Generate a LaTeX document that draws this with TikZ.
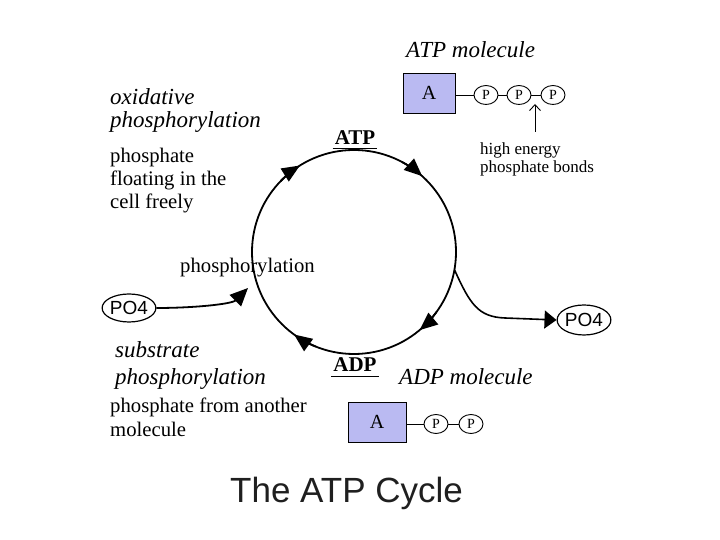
\documentclass[tikz,border=0pt]{standalone}
\usepackage{fontspec}
\setmainfont{Liberation Serif}
\newfontfamily\sansf{Liberation Sans}
\usetikzlibrary{arrows.meta,shapes.geometric,calc}
\definecolor{boxblue}{RGB}{186,186,242}
\begin{document}
\begin{tikzpicture}[x=1pt,y=1pt,
  tx/.style={inner sep=0, anchor=base west, font=\fontsize{20.7}{24}\selectfont},
  itx/.style={inner sep=0, anchor=base west, font=\fontsize{23}{24}\selectfont\itshape},
  cycarrow/.style={line width=1.8pt, -{Triangle[length=18pt,width=15pt]}},
  abox/.style={draw, fill=boxblue, line width=0.6pt, inner sep=0, font=\fontsize{20}{20}\selectfont},
  pcirc/.style={ellipse, draw, line width=0.9pt, minimum width=24pt, minimum height=19pt, inner sep=0, font=\fontsize{14}{14}\selectfont},
  po/.style={ellipse, draw, line width=1.2pt, inner sep=0, font=\sansf\fontsize{19}{19}\selectfont},
  bond/.style={line width=0.9pt}
]
\useasboundingbox (0,0) rectangle (720,540);

% cycle
\node[circle, draw, line width=1.8pt, minimum size=204pt, inner sep=0, outer sep=0] (cyc) at (354,288) {};
\draw[cycarrow] (cyc.136) arc[start angle=136, end angle=122, radius=102];
\draw[cycarrow] (cyc.62) arc[start angle=62, end angle=48, radius=102];
\draw[cycarrow] (cyc.-36) arc[start angle=-36, end angle=-50, radius=102];
\draw[cycarrow] (cyc.-112) arc[start angle=-112, end angle=-126, radius=102];

\node[inner sep=0, anchor=base, font=\fontsize{21}{21}\selectfont\bfseries] (atp) at (355,395) {ATP};
\draw[line width=0.8pt] ($(atp.base west)+(-2,-3)$) -- ($(atp.base east)+(2,-3)$);
\node[inner sep=0, anchor=base, font=\fontsize{21}{21}\selectfont\bfseries] (adp) at (355,168) {ADP};
\draw[line width=0.8pt] ($(adp.base west)+(-2,-4)$) -- ($(adp.base east)+(2,-4)$);

% phosphate in / out
\node[po, minimum width=50pt, minimum height=28pt] (po4l) at (129,232) {PO4};
\coordinate (tipl) at (248,252);
\draw[line width=1.8pt, -{Triangle[length=18pt,width=16pt]}] (po4l.east) .. controls (195,232) and (232,236) .. (tipl);
\node[po, minimum width=45pt, minimum height=30pt] (po4r) at (584,220) {PO4};
\draw[line width=1.6pt, -{Triangle[length=12pt,width=18pt]}] (cyc.-10) .. controls (470,236) and (478,223) .. (505,222) -- (po4r.west);

\node[tx] (phos) at (180,267) {phosphorylation};

% left texts
\node[itx] (ox1) at (110,435) {oxidative};
\node[itx] (ox2) at (110,412) {phosphorylation};
\node[tx] (fl1) at (110,377) {phosphate};
\node[tx] (fl2) at (110,354) {floating in the};
\node[tx] (fl3) at (110,331) {cell freely};

\node[itx] (su1) at (115,182) {substrate};
\node[itx] (su2) at (115,155) {phosphorylation};
\node[tx] (an1) at (110,127) {phosphate from another};
\node[tx] (an2) at (110,103) {molecule};

% ATP molecule
\node[itx] (atpm) at (406,482) {ATP molecule};
\node[abox, minimum width=52pt, minimum height=40pt] (a1) at (429,447) {A};
\node[pcirc] (p1) at (486,445) {P};
\node[pcirc] (p2) at (519,445) {P};
\node[pcirc] (p3) at (553,445) {P};
\draw[bond] (a1.east |- p1) -- (p1);
\draw[bond] (p1) -- (p2);
\draw[bond] (p2) -- (p3);
\coordinate (hb) at (535,436);
\coordinate (hbs) at (535,408);
\draw[line width=0.9pt, -{Straight Barb[length=6pt,width=11pt]}] (hbs) -- (hb);
\node[inner sep=0, anchor=base west, font=\fontsize{17}{20}\selectfont] (he1) at (480,385) {high energy};
\node[inner sep=0, anchor=base west, font=\fontsize{17}{20}\selectfont] (he2) at (480,367) {phosphate bonds};

% ADP molecule
\node[itx] (adpm) at (399,155) {ADP molecule};
\node[abox, minimum width=58pt, minimum height=40pt] (a2) at (377,118) {A};
\node[pcirc] (q1) at (436,116) {P};
\node[pcirc] (q2) at (471,116) {P};
\draw[bond] (a2.east |- q1) -- (q1);
\draw[bond] (q1) -- (q2);

% title
\node[inner sep=0, anchor=base west, font=\sansf\fontsize{35}{35}\selectfont, text=black!88] (title) at (230,37) {The ATP Cycle};
\end{tikzpicture}
\end{document}
